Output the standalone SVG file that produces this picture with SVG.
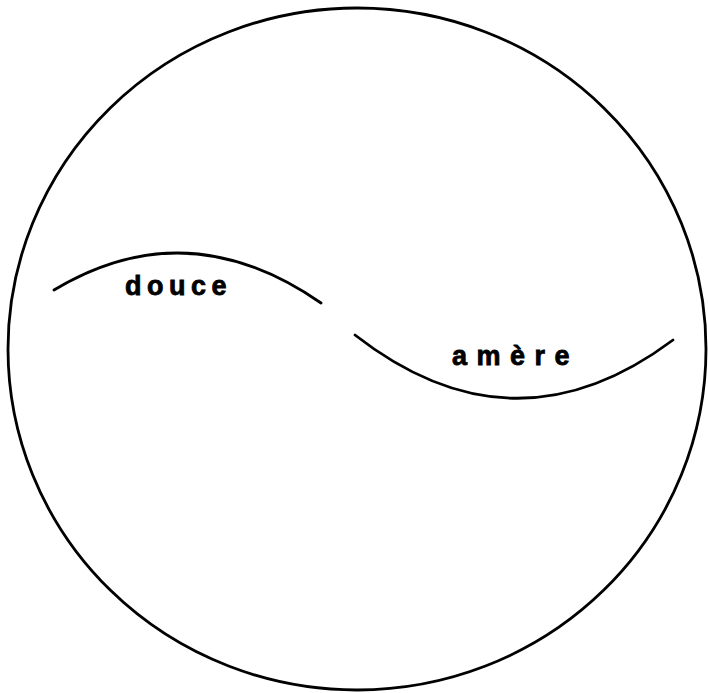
<svg xmlns="http://www.w3.org/2000/svg" width="708" height="693" viewBox="0 0 708 693">
<style>
.ln{fill:none;stroke:#000;stroke-width:2.8;stroke-linecap:round}
.lb{font-family:"Liberation Sans",Arial,sans-serif;font-weight:bold;font-size:27px;fill:#000;stroke:#000;stroke-width:0.8}
</style>
<rect width="708" height="693" fill="#fff"/>
<g id="circle"><ellipse class="ln" cx="357" cy="349" rx="349" ry="341"/></g>
<g id="connectors">
<path id="arc-douce" class="ln" d="M54 290 Q187 210 321 303"/>
<path id="arc-amere" class="ln" d="M355 335 Q514 459 673 340"/>
</g>
<g id="douce"><text class="lb" x="125" y="295" letter-spacing="5.5">douce</text></g>
<g id="amere"><text class="lb" x="452" y="365" letter-spacing="9.5">amère</text></g>
</svg>
